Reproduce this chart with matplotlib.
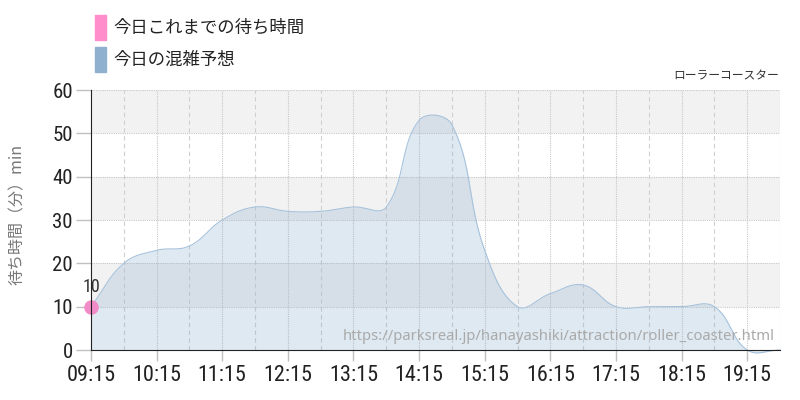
import numpy as np
import matplotlib
matplotlib.use("Agg")
import matplotlib.pyplot as plt
from matplotlib import font_manager
from matplotlib.patches import Rectangle

# half-hour forecast (today's congestion) and observed wait so far
times = ["09:15", "09:45", "10:15", "10:45", "11:15", "11:45", "12:15", "12:45",
         "13:15", "13:45", "14:15", "14:45", "15:15", "15:45", "16:15", "16:45",
         "17:15", "17:45", "18:15", "18:45", "19:15", "19:45"]
forecast = [10, 20, 23, 24, 30, 33, 32, 32, 33, 33, 53, 52, 23, 10, 13, 15,
            10, 10, 10, 10, 0, 0]
actual_times = ["09:15"]
actual = [10]
tick_labels = ["09:15", "10:15", "11:15", "12:15", "13:15", "14:15",
               "15:15", "16:15", "17:15", "18:15", "19:15"]
yticks = [0, 10, 20, 30, 40, 50, 60]

legend_actual = "今日これまでの待ち時間"
legend_forecast = "今日の混雑予想"
attraction = "ローラーコースター"
ylabel = "待ち時間（分）min"
source = "https://parksreal.jp/hanayashiki/attraction/roller_coaster.html"


def to_hours(t):
    h, m = t.split(":")
    return int(h) + int(m) / 60.0


def pick_font(names):
    for n in names:
        try:
            font_manager.findfont(n, fallback_to_default=False)
            return n
        except Exception:
            pass
    return "DejaVu Sans"


num_font = pick_font(["Liberation Sans Narrow", "Roboto Condensed", "Roboto"])
jp = ["Noto Sans CJK JP", "DejaVu Sans"]

PINK = "#ff8ccb"
BLUE = "#8fb0cf"

fig = plt.figure(figsize=(8, 4), dpi=100)
ax = fig.add_axes([91 / 800, 50 / 400, 689 / 800, 260 / 400])
ax.set_xlim(to_hours("09:15"), to_hours("19:45"))
ax.set_ylim(0, 60)

# alternating bands
for lo in range(10, 60, 20):
    ax.axhspan(lo, lo + 10, color="#f2f2f2", zorder=0, lw=0)

# grid
for y in yticks[1:]:
    ax.axhline(y, color="#c8c8c8", lw=0.8, ls=(0, (1, 1)), zorder=1)
xs_h = [to_hours(t) for t in times]
for i, x in enumerate(xs_h[1:], 1):
    if i % 2 == 0 or i == len(xs_h) - 1:
        ax.axvline(x, color="#c8c8c8", lw=0.8, ls=(0, (1, 1)), zorder=1)
    else:
        ax.axvline(x, color="#d0d0d0", lw=0.8, ls=(0, (4, 3)), zorder=1)

# Chart.js-like spline (tension 0.4), control points computed in display space
fig.canvas.draw()
pts = ax.transData.transform(np.column_stack([xs_h, forecast]))
n = len(pts)
tension = 0.4
cp_prev = np.zeros_like(pts)
cp_next = np.zeros_like(pts)
for i in range(n):
    p0 = pts[max(i - 1, 0)]
    p1 = pts[i]
    p2 = pts[min(i + 1, n - 1)]
    d01 = np.hypot(*(p1 - p0))
    d12 = np.hypot(*(p2 - p1))
    tot = d01 + d12
    s01 = d01 / tot if tot else 0
    s12 = d12 / tot if tot else 0
    cp_prev[i] = p1 - tension * s01 * (p2 - p0)
    cp_next[i] = p1 + tension * s12 * (p2 - p0)

curve = []
tt = np.linspace(0, 1, 40)[:, None]
for i in range(n - 1):
    a, b, c, d = pts[i], cp_next[i], cp_prev[i + 1], pts[i + 1]
    seg = ((1 - tt) ** 3) * a + 3 * ((1 - tt) ** 2) * tt * b + 3 * (1 - tt) * tt ** 2 * c + tt ** 3 * d
    curve.append(seg if i == 0 else seg[1:])
curve = ax.transData.inverted().transform(np.vstack(curve))

ax.fill_between(curve[:, 0], curve[:, 1], 0, color=BLUE, alpha=0.28, lw=0,
                zorder=2, clip_on=False)
ax.plot(curve[:, 0], curve[:, 1], color="#a6c2dc", lw=0.8, zorder=3, clip_on=False)

# observed point
ax_x = [to_hours(t) for t in actual_times]
ax.scatter(ax_x, actual, s=110, color="#f28cc8", zorder=5, clip_on=False, lw=0)
for x, v in zip(ax_x, actual):
    ax.annotate(str(v), (x, v), xytext=(0, 8), textcoords="offset points",
                ha="center", va="bottom", fontsize=13, color="#333333",
                family=num_font)

# axes styling
for s in ["top", "right"]:
    ax.spines[s].set_visible(False)
ax.spines["left"].set_color("#222222")
ax.spines["bottom"].set_color("#222222")
ax.spines["left"].set_zorder(6)
ax.spines["bottom"].set_zorder(6)
ax.set_yticks(yticks)
ax.set_yticklabels([str(v) for v in yticks], family=num_font, fontsize=15,
                   color="#222222")
ax.set_xticks([to_hours(t) for t in tick_labels])
ax.set_xticklabels(tick_labels, family=num_font, fontsize=16, color="#222222")
ax.tick_params(axis="y", length=11, color="#c0c0c0", width=1, pad=2)
ax.tick_params(axis="x", length=8, color="#c0c0c0", width=1, pad=3)

ax.set_ylabel(ylabel, family=jp, fontsize=11.5, color="#777777")
ax.yaxis.set_label_coords(-(91 - 26) / 689, 0.52)

# legend
fig.patches.append(Rectangle((95 / 800, 1 - 40 / 400), 11 / 800, 25 / 400,
                             transform=fig.transFigure, color=PINK))
fig.patches.append(Rectangle((95 / 800, 1 - 72 / 400), 11 / 800, 25 / 400,
                             transform=fig.transFigure, color=BLUE))
fig.text(113 / 800, 1 - 28 / 400, legend_actual, family=jp, fontsize=12.5,
         va="center", color="#222222")
fig.text(113 / 800, 1 - 60 / 400, legend_forecast, family=jp, fontsize=12.5,
         va="center", color="#222222")

fig.text(779 / 800, 1 - 76 / 400, attraction, family=jp, fontsize=8.5,
         ha="right", va="center", color="#333333")
fig.text(775 / 800, 1 - 337 / 400, source, family=["Noto Sans", "DejaVu Sans"],
         fontsize=10.7, ha="right", va="center", color="#aaaaaa", zorder=10)

fig.savefig("out.png", dpi=100)
